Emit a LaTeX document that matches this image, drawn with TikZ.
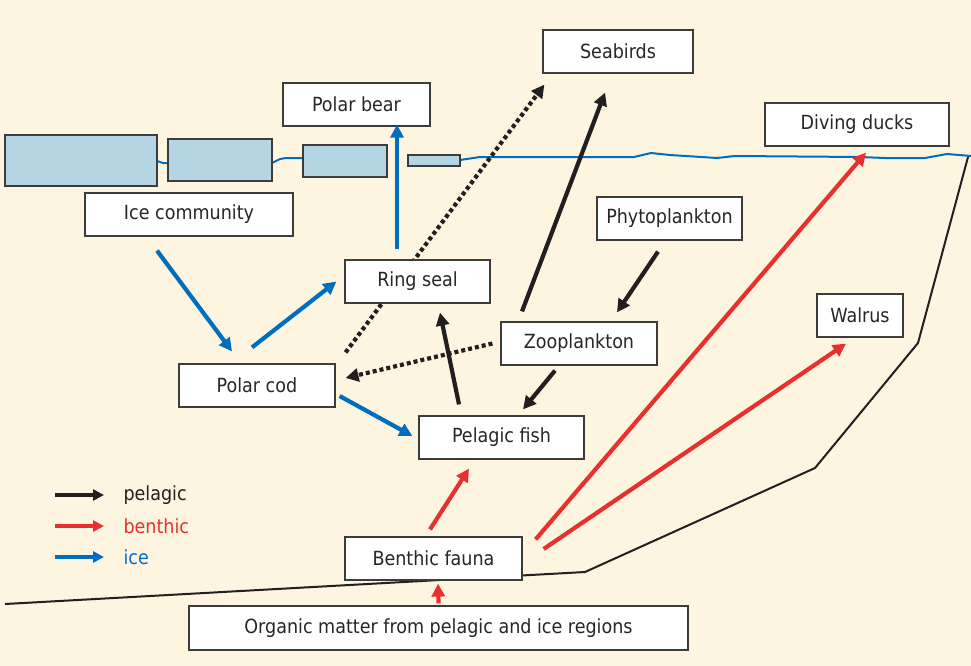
\documentclass[tikz,border=0pt]{standalone}
\usepackage{fontspec}
\setmainfont{DejaVu Sans Condensed}
\usetikzlibrary{arrows.meta}

\definecolor{cream}{RGB}{254,245,225}
\definecolor{iceblue}{RGB}{0,110,190}
\definecolor{benthred}{RGB}{232,48,46}
\definecolor{pelblack}{RGB}{35,31,32}
\definecolor{floe}{RGB}{181,212,228}
\definecolor{boxline}{RGB}{60,60,60}

\pgfdeclarelayer{background}
\pgfsetlayers{background,main}

\tikzset{
  box/.style={draw=boxline, line width=1.2pt, fill=white, inner sep=0pt, minimum height=43pt, text=black!85},
  flow/.style={line width=4.2pt, -{Triangle[length=13pt,width=13pt]}},
  ice/.style={flow, color=iceblue},
  pelagic/.style={flow, color=pelblack},
  benthic/.style={flow, color=benthred},
  dotflow/.style={pelagic, dash pattern=on 4pt off 3pt},
  floebox/.style={draw=boxline, line width=1.2pt, fill=floe}
}

\begin{document}
\begin{tikzpicture}[x=1pt, y=-1pt, font=\fontsize{19.5}{23}\selectfont]
	\useasboundingbox (0,0) rectangle (971,666);

	\node[box, minimum width=150pt] (seabirds) at (618,51.5) {Seabirds};
	\node[box, minimum width=147pt] (bear) at (356.5,104.5) {Polar bear};
	\node[box, minimum width=184pt] (ducks) at (857,124.5) {Diving ducks};
	\node[box, minimum width=208pt] (icecom) at (189,214.5) {Ice community};
	\node[box, minimum width=145pt] (phyto) at (669.5,218.5) {Phytoplankton};
	\node[box, minimum width=145pt] (seal) at (417.5,281.5) {Ring seal};
	\node[box, minimum width=86pt] (walrus) at (860,315.5) {Walrus};
	\node[box, minimum width=156pt] (zoo) at (579,343.5) {Zooplankton};
	\node[box, minimum width=156pt] (cod) at (257,385.5) {Polar cod};
	\node[box, minimum width=165pt] (fish) at (501.5,437.5) {Pelagic fish};
	\node[box, minimum width=177pt] (fauna) at (433.5,558.5) {Benthic fauna};
	\node[box, minimum width=499pt, minimum height=44pt] (organic) at (438.5,628) {Organic matter from pelagic and ice regions};

	\begin{pgfonlayer}{background}
	\fill[cream] (0,0) rectangle (971,666);
	\draw[iceblue, line width=2pt] (157,161) -- (163,163) -- (168,163);
	\draw[iceblue, line width=2pt] (272,163) -- (280,159) -- (286,158) -- (303,158);
	\draw[iceblue, line width=2pt] (460,160) -- (480,157) -- (634,157) -- (651,153) -- (670,155) -- (717,158)
	  -- (735,156) -- (860,157) -- (885,158) -- (925,158) -- (947,154) -- (971,156);
	\draw[floebox] (5,135) rectangle (157,186);
	\draw[floebox] (168,139) rectangle (272,181);
	\draw[floebox] (303,145) rectangle (387,177);
	\draw[floebox] (408,155) rectangle (460,166);
	\draw[pelblack, line width=2pt, line join=round] (968,157) -- (918,343) -- (815,468) -- (585,572) -- (5,604);
	\draw[dotflow] ([shift={(10,-11)}]cod.north east) -- ([shift={(2,11)}]seabirds.south west);
	\end{pgfonlayer}

	\draw[ice] ([shift={(-32,14)}]icecom.south) -- ([shift={(-25,-12)}]cod.north);
	\draw[ice] ([shift={(-5,-16)}]cod.north) -- ([shift={(-8,0)}]seal.west);
	\draw[ice] ([shift={(-20.5,-10)}]seal.north) -- ([shift={(40.5,-2)}]bear.south);
	\draw[ice] ([shift={(4,10.5)}]cod.east) -- ([shift={(-6,-1.5)}]fish.west);

	\draw[pelagic] ([shift={(-57,-10)}]zoo.north) -- ([shift={(-13,19)}]seabirds.south);
	\draw[pelagic] ([shift={(-11.5,11)}]phyto.south) -- ([shift={(38,-9)}]zoo.north);
	\draw[pelagic] ([shift={(-24,5)}]zoo.south) -- ([shift={(21.5,-6)}]fish.north);
	\draw[pelagic] ([shift={(-42.5,-11)}]fish.north) -- ([shift={(22.5,9)}]seal.south);
	\draw[dotflow] ([shift={(-8,0)}]zoo.west) -- ([shift={(10,-7.5)}]cod.east);

	\draw[benthic] ([shift={(-3.5,-7)}]fauna.north) -- ([shift={(-32.5,9)}]fish.south);
	\draw[benthic] ([shift={(13,3)}]fauna.north east) -- ([shift={(9,6)}]ducks.south);
	\draw[benthic] ([shift={(21,-9.5)}]fauna.east) -- ([shift={(-14,6)}]walrus.south);
	\draw[benthic] ([shift={(0,-2)}]organic.north) -- ([shift={(4.5,3)}]fauna.south);

	\node[anchor=west, text=pelblack] (legpel) at (120,495) {pelagic};
	\node[anchor=west, text=benthred] (legben) at (120,526) {benthic};
	\node[anchor=west, text=iceblue] (legice) at (120,557) {ice};
	\draw[pelagic, line width=3.5pt, -{Triangle[length=11pt,width=11pt]}] ([xshift=-65]legpel.west) -- ([xshift=-16]legpel.west);
	\draw[benthic, line width=3.5pt, -{Triangle[length=11pt,width=11pt]}] ([xshift=-65]legben.west) -- ([xshift=-16]legben.west);
	\draw[ice, line width=3.5pt, -{Triangle[length=11pt,width=11pt]}] ([xshift=-65]legice.west) -- ([xshift=-16]legice.west);
\end{tikzpicture}
\end{document}
